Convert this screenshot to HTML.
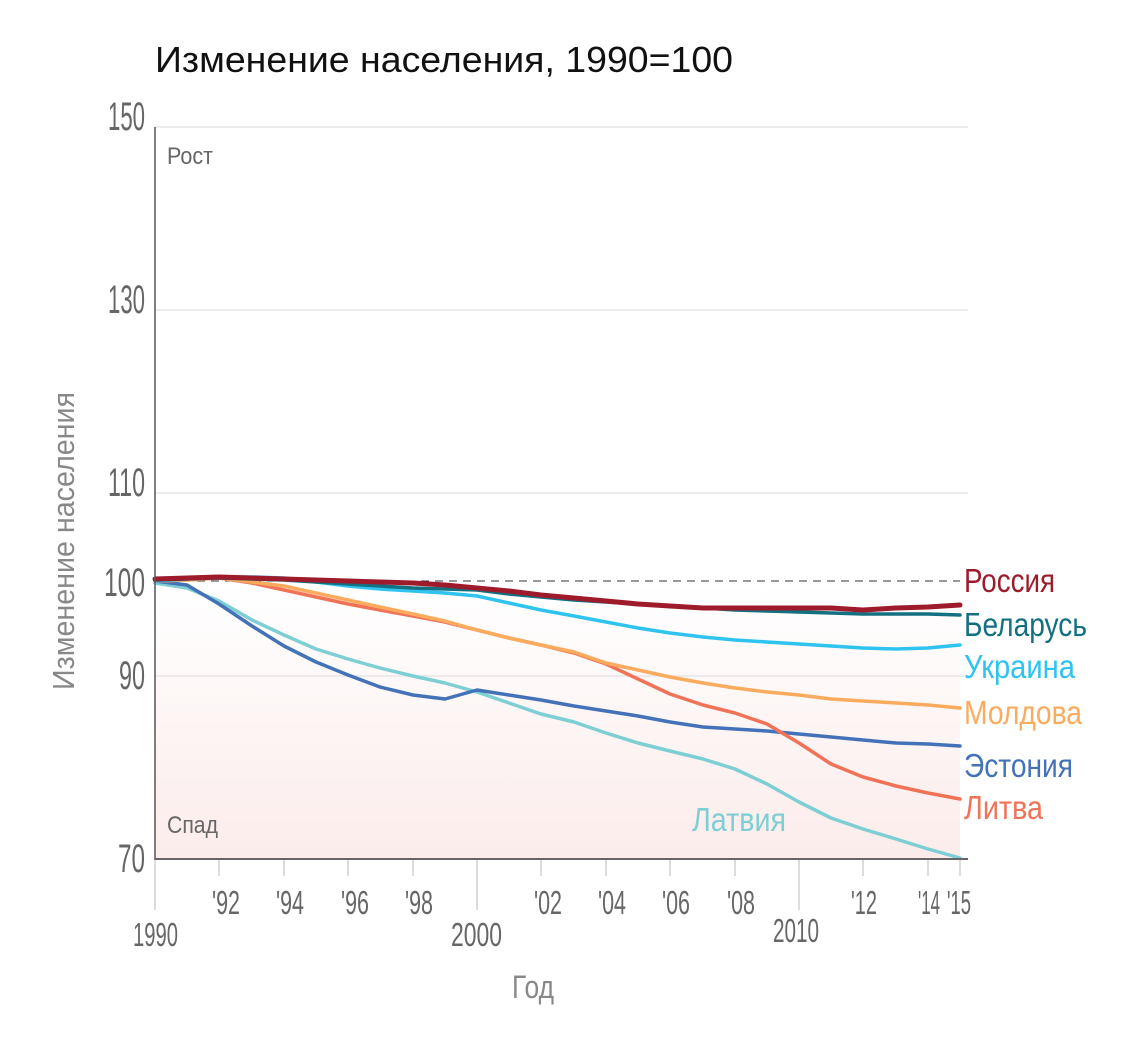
<!DOCTYPE html>
<html><head><meta charset="utf-8"><style>
html,body{margin:0;padding:0;background:#fff}
svg{display:block}
text{font-family:"Liberation Sans",sans-serif}
</style></head><body>
<svg width="1146" height="1063" viewBox="0 0 1146 1063" xmlns="http://www.w3.org/2000/svg">
<defs><linearGradient id="g" x1="0" y1="0" x2="0" y2="1"><stop offset="0" stop-color="#fff"/><stop offset="1" stop-color="#fbeceb"/></linearGradient></defs>
<text x="155" y="72" font-size="36" fill="#111" textLength="578" lengthAdjust="spacingAndGlyphs">Изменение населения, 1990=100</text>
<rect x="155" y="584" width="805" height="275" fill="url(#g)"/>
<g stroke="#e6e6e6" stroke-width="1.5">
<line x1="155" y1="127" x2="968" y2="127"/><line x1="155" y1="310" x2="968" y2="310"/>
<line x1="155" y1="493" x2="968" y2="493"/><line x1="155" y1="676" x2="968" y2="676"/>
</g>
<g stroke="#ddd" stroke-width="2">
<line x1="155" y1="860" x2="155" y2="910"/><line x1="477" y1="860" x2="477" y2="910"/><line x1="799" y1="860" x2="799" y2="910"/>
<line x1="219" y1="860" x2="219" y2="876"/><line x1="284" y1="860" x2="284" y2="876"/><line x1="348" y1="860" x2="348" y2="876"/><line x1="413" y1="860" x2="413" y2="876"/>
<line x1="541" y1="860" x2="541" y2="876"/><line x1="606" y1="860" x2="606" y2="876"/><line x1="670" y1="860" x2="670" y2="876"/><line x1="735" y1="860" x2="735" y2="876"/>
<line x1="863" y1="860" x2="863" y2="876"/><line x1="928" y1="860" x2="928" y2="876"/><line x1="960" y1="860" x2="960" y2="876"/>
</g>
<line x1="155" y1="581" x2="960" y2="581" stroke="#333" stroke-width="1" stroke-dasharray="8,6"/>
<g fill="none" stroke-width="3.5" stroke-linejoin="round" stroke-linecap="round">
<polyline stroke="#7dcfd4" points="155,583 187,588 219,601 252,620 284,635 316,649 348,659 380,668 413,676 445,683 477,692 509,703 541,714 574,722 606,733 638,743 670,751 703,759 735,769 767,784 799,802 831,818 863,829 896,839 928,849 960,858"/>
<polyline stroke="#4472b8" points="155,581 187,585 219,604 252,626 284,646 316,662 348,675 380,687 413,695 445,699 477,690 509,695 541,700 574,706 606,711 638,716 670,722 703,727 735,729 767,731 799,734 831,737 863,740 896,743 928,744 960,746"/>
<polyline stroke="#f07358" points="155,581 187,580 219,578 252,583 284,590 316,597 348,604 380,610 413,616 445,622 477,630 509,638 541,645 574,653 606,664 638,679 670,694 703,705 735,713 767,724 799,743 831,764 863,777 896,786 928,793 960,799"/>
<polyline stroke="#fbab5e" points="155,581 187,580 219,578 252,582 284,586 316,593 348,600 380,607 413,614 445,621 477,630 509,638 541,645 574,652 606,663 638,670 670,677 703,683 735,688 767,692 799,695 831,699 863,701 896,703 928,705 960,708"/>
<polyline stroke="#2fc4f0" points="155,581 187,579 219,577 252,577 284,578 316,582 348,586 380,589 413,591 445,593 477,596 509,603 541,610 574,616 606,622 638,628 670,633 703,637 735,640 767,642 799,644 831,646 863,648 896,649 928,648 960,645"/>
<polyline stroke="#137080" points="155,580 187,579 219,578 252,579 284,580 316,582 348,584 380,586 413,588 445,589 477,590 509,594 541,597 574,600 606,602 638,604 670,606 703,608 735,610 767,611 799,612 831,613 863,614 896,614 928,614 960,615"/>
<polyline stroke="#9e1b2c" stroke-width="5" points="155,579 187,578 219,577 252,578 284,579 316,580 348,581 380,582 413,583 445,585 477,588 509,591 541,595 574,598 606,601 638,604 670,606 703,608 735,608 767,608 799,608 831,608 863,610 896,608 928,607 960,605"/>
</g>
<line x1="155" y1="127" x2="155" y2="860" stroke="#555" stroke-width="1.5"/>
<line x1="155" y1="859" x2="968" y2="859" stroke="#666" stroke-width="2"/>
<g fill="#666" font-size="40" lengthAdjust="spacingAndGlyphs">
<text x="108" y="130" textLength="37" lengthAdjust="spacingAndGlyphs">150</text>
<text x="108" y="313" textLength="37" lengthAdjust="spacingAndGlyphs">130</text>
<text x="108" y="496" textLength="37" lengthAdjust="spacingAndGlyphs">110</text>
<text x="104" y="596" textLength="41" lengthAdjust="spacingAndGlyphs">100</text>
<text x="119" y="689" textLength="26" lengthAdjust="spacingAndGlyphs">90</text>
<text x="118" y="872" textLength="27" lengthAdjust="spacingAndGlyphs">70</text>
</g>
<g fill="#666" font-size="24">
<text x="167" y="164" textLength="46" lengthAdjust="spacingAndGlyphs">Рост</text>
<text x="167" y="833" textLength="51" lengthAdjust="spacingAndGlyphs">Спад</text>
</g>
<text transform="translate(74,541) rotate(-90)" fill="#888" font-size="31" text-anchor="middle" textLength="298" lengthAdjust="spacingAndGlyphs">Изменение населения</text>
<g fill="#666" font-size="33">
<text x="212" y="914" textLength="28" lengthAdjust="spacingAndGlyphs">'92</text>
<text x="276" y="914" textLength="28" lengthAdjust="spacingAndGlyphs">'94</text>
<text x="341" y="914" textLength="28" lengthAdjust="spacingAndGlyphs">'96</text>
<text x="405" y="914" textLength="28" lengthAdjust="spacingAndGlyphs">'98</text>
<text x="534" y="914" textLength="28" lengthAdjust="spacingAndGlyphs">'02</text>
<text x="598" y="914" textLength="28" lengthAdjust="spacingAndGlyphs">'04</text>
<text x="662" y="914" textLength="28" lengthAdjust="spacingAndGlyphs">'06</text>
<text x="727" y="914" textLength="28" lengthAdjust="spacingAndGlyphs">'08</text>
<text x="851" y="914" textLength="26" lengthAdjust="spacingAndGlyphs">'12</text>
<text x="918" y="914" textLength="22" lengthAdjust="spacingAndGlyphs">'14</text>
<text x="947" y="914" textLength="24" lengthAdjust="spacingAndGlyphs">'15</text>
<text x="133" y="946" textLength="45" lengthAdjust="spacingAndGlyphs">1990</text>
<text x="451" y="946" textLength="51" lengthAdjust="spacingAndGlyphs">2000</text>
<text x="773" y="942" textLength="46" lengthAdjust="spacingAndGlyphs">2010</text>
</g>
<text x="512" y="998" fill="#888" font-size="32" textLength="42" lengthAdjust="spacingAndGlyphs">Год</text>
<g font-size="33">
<text x="964" y="592" fill="#9e1b2c" textLength="91" lengthAdjust="spacingAndGlyphs">Россия</text>
<text x="964" y="636" fill="#137080" textLength="123" lengthAdjust="spacingAndGlyphs">Беларусь</text>
<text x="964" y="678" fill="#2fc4f0" textLength="111" lengthAdjust="spacingAndGlyphs">Украина</text>
<text x="964" y="724" fill="#fbab5e" textLength="118" lengthAdjust="spacingAndGlyphs">Молдова</text>
<text x="964" y="777" fill="#4472b8" textLength="109" lengthAdjust="spacingAndGlyphs">Эстония</text>
<text x="964" y="819" fill="#f07358" textLength="79" lengthAdjust="spacingAndGlyphs">Литва</text>
<text x="692" y="831" fill="#7dcfd4" textLength="94" lengthAdjust="spacingAndGlyphs">Латвия</text>
</g>
</svg>
</body></html>
